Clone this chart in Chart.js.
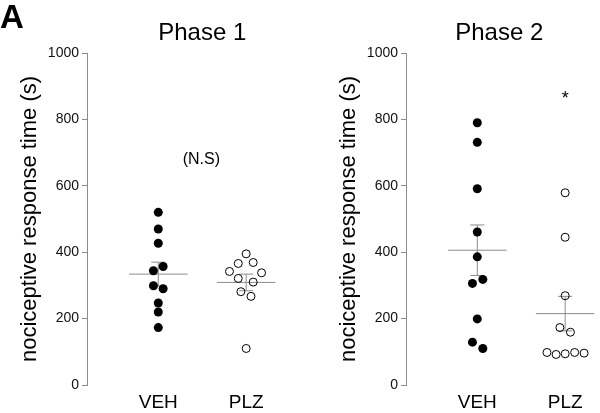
<!DOCTYPE html>
<html><head><meta charset="utf-8">
<script src="https://cdn.jsdelivr.net/npm/chart.js@4"></script>
<style>
html,body{margin:0;padding:0;background:#fff;overflow:hidden}
#wrap{position:relative;width:600px;height:413px;overflow:hidden;background:#fff}
.c{position:absolute;top:0;width:300px;height:413px}
#A{position:absolute;left:0;top:0;font:bold 33px "Liberation Sans",Arial,sans-serif;line-height:1;color:#000}
</style></head><body>
<div id="wrap">
<div class="c" style="left:0"><canvas id="c1" width="300" height="413"></canvas></div>
<div class="c" style="left:319px"><canvas id="c2" width="300" height="413"></canvas></div>
<div id="A">A</div>
</div>
<script>
const categories = ['VEH', 'PLZ'];
const phaseTitles = ['Phase 1', 'Phase 2'];
const yTicks = [0, 200, 400, 600, 800, 1000];
const yLabel = 'nociceptive response time (s)';

const p1VehValues = [520, 470, 427, 357, 344, 299, 290, 247, 220, 173];
const p1VehJitter = [0, 0, 0, 0.055, -0.055, -0.055, 0.055, 0, 0, 0];
const p1PlzValues = [395, 366, 369, 342, 338, 321, 310, 281, 267, 110];
const p1PlzJitter = [0, -0.09, 0.08, -0.19, 0.175, -0.09, 0.08, -0.06, 0.055, 0];
const p1Means = [334, 309];
const p1Sem = [36, 25];

const p2VehValues = [790, 731, 591, 461, 386, 318, 306, 199, 129, 110];
const p2VehJitter = [0, 0, 0, 0, 0, 0.063, -0.055, 0, -0.055, 0.063];
const p2PlzValues = [579, 445, 269, 173, 159, 98, 92, 94, 98, 96];
const p2PlzJitter = [0, 0, 0, -0.06, 0.06, -0.207, -0.103, 0, 0.108, 0.215];
const p2Means = [406, 215];
const p2Sem = [76, 52];

const p1Note = '(N.S)';
const p2Note = '*';

const FONT = '"Liberation Sans", Arial, Helvetica, sans-serif';
const GRAY = '#8c8c8c';

const panelText = {
  id: 'panelText',
  afterDraw(chart, args, opts) {
    const ctx = chart.ctx, xs = chart.scales.x, ys = chart.scales.y;
    ctx.save();
    ctx.fillStyle = '#000';
    ctx.textAlign = 'center';
    ctx.textBaseline = 'middle';
    ctx.font = '24px ' + FONT;
    ctx.fillText(opts.title, xs.getPixelForValue(opts.titleX), 33);
    ctx.font = opts.noteSize + 'px ' + FONT;
    ctx.fillText(opts.note, xs.getPixelForValue(opts.noteX), ys.getPixelForValue(opts.noteY));
    ctx.restore();
  }
};

function pts(vals, jit, pos) {
  return vals.map((v, i) => ({x: pos + jit[i], y: v}));
}
function summaryLines(means, sems) {
  const out = [];
  means.forEach((m, i) => {
    const c = i + 1, s = sems[i];
    out.push({x: c - 0.333, y: m}, {x: c + 0.333, y: m}, {x: c, y: null});
    out.push({x: c, y: m - s}, {x: c, y: m + s}, {x: c, y: null});
    out.push({x: c - 0.08, y: m + s}, {x: c + 0.08, y: m + s}, {x: c, y: null});
    out.push({x: c - 0.08, y: m - s}, {x: c + 0.08, y: m - s}, {x: c, y: null});
  });
  return out;
}

function makeChart(id, vehV, vehJ, plzV, plzJ, means, sems, title, titleX, note, noteX, noteY, noteSize) {
  return new Chart(document.getElementById(id), {
    type: 'scatter',
    data: {
      datasets: [
        {data: pts(vehV, vehJ, 1), pointRadius: 4.5, pointBackgroundColor: '#000', pointBorderWidth: 0, showLine: false},
        {data: pts(plzV, plzJ, 2), pointRadius: 4, pointBackgroundColor: 'rgba(0,0,0,0)', pointBorderColor: '#000', pointBorderWidth: 1, showLine: false},
        {data: summaryLines(means, sems), showLine: true, spanGaps: false, borderColor: GRAY, borderWidth: 1, pointRadius: 0, fill: false}
      ]
    },
    options: {
      responsive: false,
      animation: false,
      events: [],
      layout: {padding: {top: 53, left: 0, right: 0, bottom: 0}},
      plugins: {
        legend: {display: false},
        tooltip: {enabled: false},
        panelText: {title, titleX, note, noteX, noteY, noteSize}
      },
      scales: {
        x: {
          type: 'linear', min: 0.1889, max: 2.5556,
          afterBuildTicks: s => { s.ticks = categories.map((c, i) => ({value: i + 1})); },
          ticks: {callback: v => categories[v - 1] || '', font: {size: 19, family: FONT}, color: '#000', padding: 6, autoSkip: false, maxRotation: 0},
          grid: {display: false, drawTicks: false},
          border: {display: false},
          afterFit: s => { s.height = 28; }
        },
        y: {
          min: 0, max: 1000,
          afterBuildTicks: s => { s.ticks = yTicks.map(v => ({value: v})); },
          ticks: {callback: v => String(v), font: {size: 14, family: FONT}, color: '#111', padding: 3},
          grid: {drawOnChartArea: false, drawTicks: true, tickLength: 5, color: GRAY},
          border: {display: true, color: GRAY},
          title: {display: true, text: yLabel, font: {size: 22, family: FONT}, color: '#000', padding: {top: 17, bottom: 0}},
          afterFit: s => { s.width = 87; }
        }
      }
    },
    plugins: [panelText]
  });
}

makeChart('c1', p1VehValues, p1VehJitter, p1PlzValues, p1PlzJitter, p1Means, p1Sem, phaseTitles[0], 1.5, p1Note, 1.49, 678, 16);
makeChart('c2', p2VehValues, p2VehJitter, p2PlzValues, p2PlzJitter, p2Means, p2Sem, phaseTitles[1], 1.25, p2Note, 2, 862, 18);
</script>
</body></html>
